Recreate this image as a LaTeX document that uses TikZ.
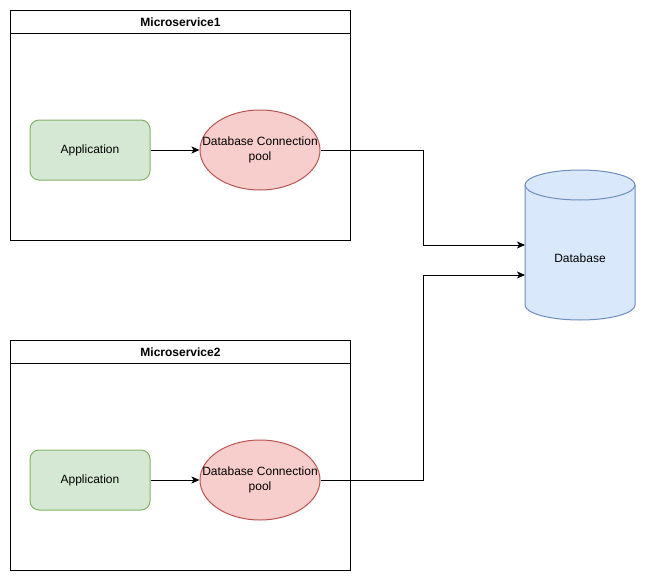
\documentclass[tikz,border=0pt]{standalone}
\usepackage{fontspec}
\setmainfont{Liberation Sans}
\usetikzlibrary{arrows.meta,shapes.geometric}
\definecolor{gfill}{HTML}{D5E8D4}\definecolor{gline}{HTML}{82B366}
\definecolor{rfill}{HTML}{F8CECC}\definecolor{rline}{HTML}{B85450}
\definecolor{bfill}{HTML}{DAE8FC}\definecolor{bline}{HTML}{6C8EBF}
\tikzset{
  box/.style={draw=black,line width=1pt,minimum width=340pt,minimum height=230pt,anchor=north west,inner sep=0pt},
  titlebar/.style={draw=black,line width=1pt,minimum width=340pt,minimum height=23pt,anchor=north west,inner sep=0pt,font=\fontsize{12}{14}\selectfont\bfseries},
  appbox/.style={draw=gline,fill=gfill,line width=1pt,rounded corners=9pt,minimum width=120pt,minimum height=60pt,inner sep=0pt,font=\fontsize{12}{14}\selectfont},
  pool/.style={ellipse,draw=rline,fill=rfill,line width=1pt,minimum width=120pt,minimum height=80pt,inner sep=0pt,align=center,font=\fontsize{12}{15}\selectfont},
  arr/.style={draw=black,line width=1pt,-{Stealth[length=8pt,width=7pt,inset=2pt]}},
  lbl/.style={font=\fontsize{12}{14}\selectfont,inner sep=0pt}
}
\newcommand{\poolText}{\makebox[0pt]{Database Connection}\\pool}
\begin{document}
\begin{tikzpicture}[x=1pt,y=-1pt]
\useasboundingbox (0,0) rectangle (646,581);
% Microservice1
\node[box] (ms1) at (10,10) {};
\node[titlebar] (t1) at (10,10) {Microservice1};
\node[appbox] (app1) at (90,150) {Application};
\node[pool] (pool1) at (260,150) {\poolText};
% Microservice2
\node[box] (ms2) at (10,340) {};
\node[titlebar] (t2) at (10,340) {Microservice2};
\node[appbox] (app2) at (90,480) {Application};
\node[pool] (pool2) at (260,480) {\poolText};
% Database cylinder
\fill[bfill] (525,185) -- (525,305) arc[start angle=180,end angle=360,x radius=55pt,y radius=15pt]
  -- (635,185) arc[start angle=0,end angle=180,x radius=55pt,y radius=15pt] -- cycle;
\draw[bline,line width=1pt] (525,185) -- (525,305) arc[start angle=180,end angle=360,x radius=55pt,y radius=15pt]
  -- (635,185) arc[start angle=0,end angle=180,x radius=55pt,y radius=15pt];
\draw[bline,line width=1pt] (525,185) arc[start angle=180,end angle=360,x radius=55pt,y radius=15pt];
\node[inner sep=0pt,minimum width=110pt,minimum height=150pt] (db) at (580,245) {};
\node[lbl] (dbl) at (580,258) {Database};
\coordinate (in1) at (525,245);
\coordinate (in2) at (525,275);
% Connectors
\draw[arr] (app1.east) -- (pool1.west);
\draw[arr] (app2.east) -- (pool2.west);
\draw[arr] (pool1.east) -- (423.5,150) |- (in1);
\draw[arr] (pool2.east) -- (423.5,480) |- (in2);
\end{tikzpicture}
\end{document}
